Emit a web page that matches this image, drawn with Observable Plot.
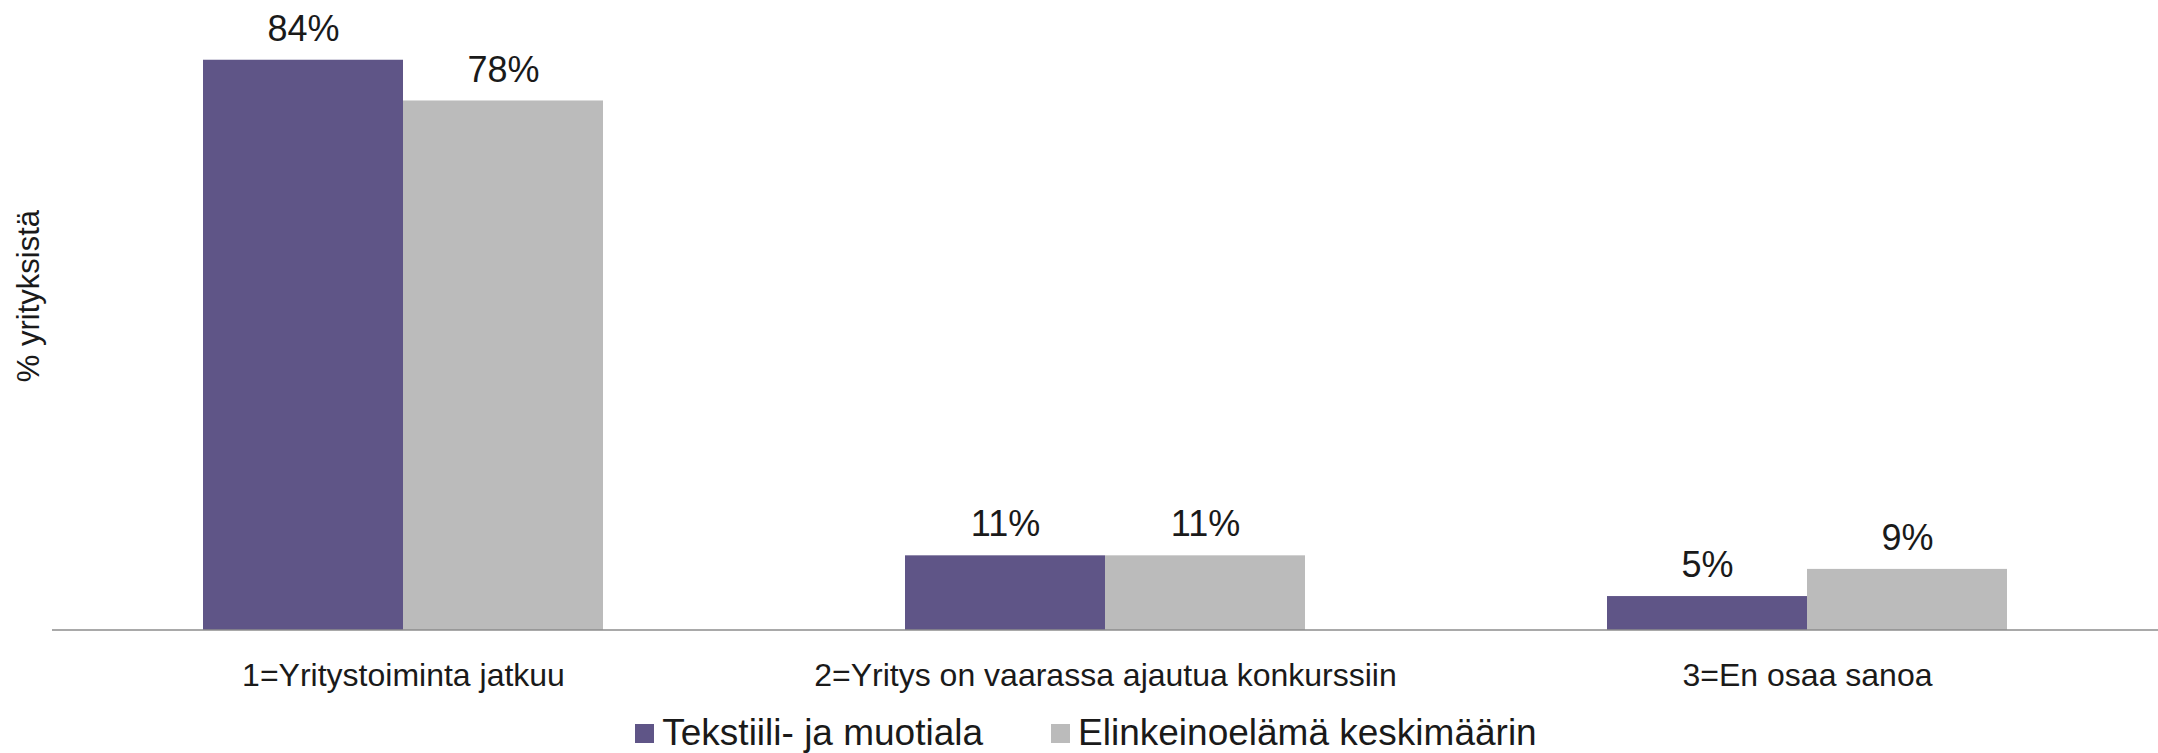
<!DOCTYPE html>
<html>
<head>
<meta charset="utf-8">
<script src="https://cdn.jsdelivr.net/npm/d3@7"></script>
<script src="https://cdn.jsdelivr.net/npm/@observablehq/plot@0.6"></script>
<style>
  html, body { margin: 0; padding: 0; background: white; }
  body { width: 2158px; font-family: "Liberation Sans", Arial, sans-serif; color: #1a1a1a; }
  #legend { display: flex; justify-content: center; align-items: center; height: 67px; font-size: 37px; line-height: 1.1; padding-left: 14px; }
  .item { display: flex; align-items: center; margin: 0 34px; }
  .sw { width: 19px; height: 19px; margin-right: 8px; }
</style>
</head>
<body>
<div id="chart"></div>
<div id="legend"></div>
<script>
const categories = ["1=Yritystoiminta jatkuu", "2=Yritys on vaarassa ajautua konkurssiin", "3=En osaa sanoa"];
const series = ["Tekstiili- ja muotiala", "Elinkeinoelämä keskimäärin"];
const textileValues = [84, 11, 5];
const averageValues = [78, 11, 9];
const colors = ["#5f5587", "#bbbbbb"];
const yLabel = "% yrityksistä";

const data = categories.flatMap((c, i) => [
  {category: c, series: series[0], value: textileValues[i]},
  {category: c, series: series[1], value: averageValues[i]}
]);

const W = 2158, H = 700, ML = 52, MB = 70;

const chart = Plot.plot({
  width: W, height: H,
  marginLeft: ML, marginRight: 0, marginTop: 0, marginBottom: MB,
  style: {fontFamily: "Liberation Sans, Arial, sans-serif", color: "#1a1a1a", background: "white", overflow: "visible"},
  fx: {domain: categories, paddingInner: 0.43, paddingOuter: 0.215, label: null},
  x: {domain: series, padding: 0, axis: null},
  y: {domain: [0, 92.8], axis: null},
  color: {domain: series, range: colors},
  marks: [
    Plot.barY(data, {fx: "category", x: "series", y: "value", fill: "series"}),
    Plot.text(data, {fx: "category", x: "series", y: "value", text: d => d.value + "%", dy: -31, lineAnchor: "middle", fontSize: 36, fill: "#1a1a1a"}),
    Plot.axisFx({anchor: "bottom", tickSize: 0, tickPadding: 33, fontSize: 32, label: null, fill: "#1a1a1a"})
  ]
});

document.getElementById("chart").appendChild(chart);

const svg = d3.select(chart);
const y = chart.scale("y");
const y0 = y.apply(0);
svg.append("line")
  .attr("x1", ML).attr("x2", W)
  .attr("y1", y0).attr("y2", y0)
  .attr("stroke", "#8c8c8c").attr("stroke-width", 1.5);
svg.append("text")
  .attr("transform", `translate(28,296) rotate(-90)`)
  .attr("text-anchor", "middle")
  .attr("dy", "0.35em")
  .attr("font-size", 31)
  .attr("fill", "#1a1a1a")
  .text(yLabel);

const legend = d3.select("#legend");
series.forEach((s, i) => {
  const item = legend.append("div").attr("class", "item");
  item.append("div").attr("class", "sw").style("background", colors[i]);
  item.append("span").text(s);
});
</script>
</body>
</html>
